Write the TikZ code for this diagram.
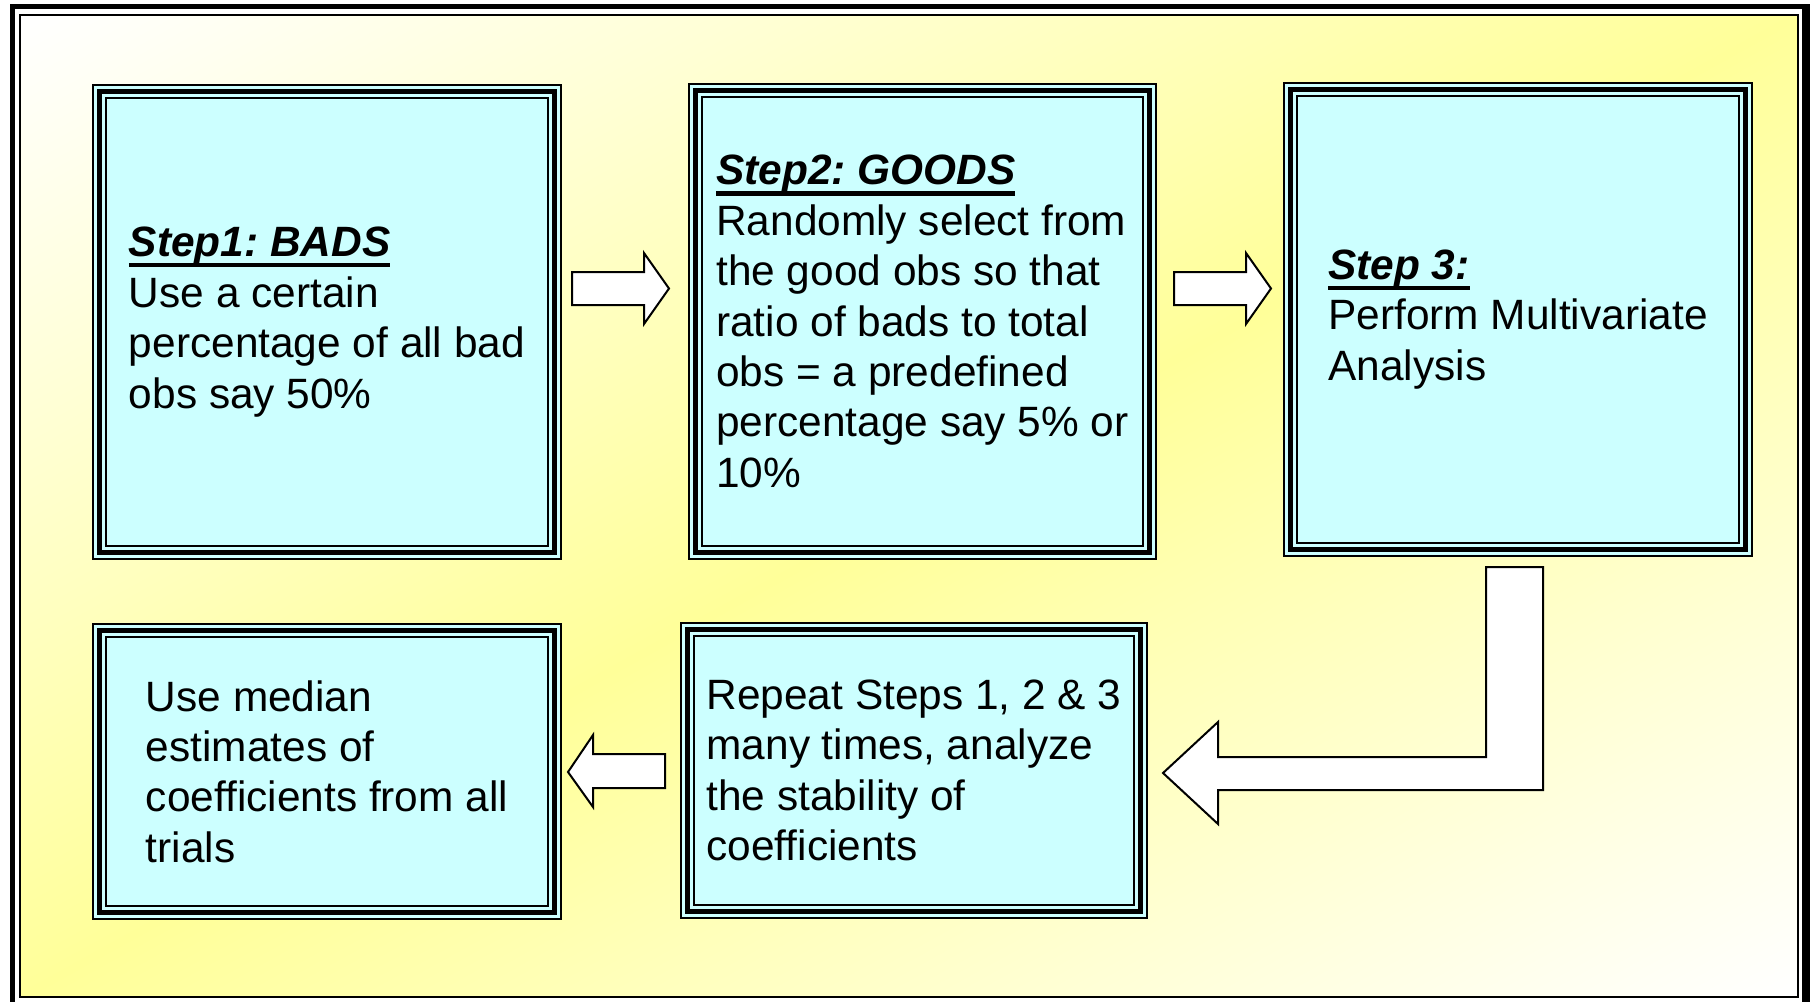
\documentclass[tikz,border=0pt]{standalone}
\usepackage{fontspec}
\setmainfont{Liberation Sans}
\frenchspacing
\definecolor{boxcyan}{HTML}{CCFFFF}
\definecolor{bgyellow}{HTML}{FFFF99}
\pgfdeclarehorizontalshading{bgdiag}{100bp}{color(0bp)=(white); color(14.6bp)=(white); color(50bp)=(bgyellow); color(85.4bp)=(white); color(100bp)=(white)}
\newcommand{\steptitle}[1]{\setbox0\hbox{\bfseries\itshape #1}\rlap{\rule[-5.3pt]{\wd0}{2.2pt}}\box0}
\tikzset{
  stepnode/.style={draw=black, line width=1pt, fill=boxcyan, align=left, inner sep=0pt,
    font=\fontsize{21.2pt}{25.2pt}\selectfont,
    path picture={
      \draw[line width=2.65pt] ([shift={(3.15pt,3.15pt)}]path picture bounding box.south west) rectangle ([shift={(-3.15pt,-3.15pt)}]path picture bounding box.north east);
      \draw[line width=1.15pt] ([shift={(6.5pt,6.5pt)}]path picture bounding box.south west) rectangle ([shift={(-6.5pt,-6.5pt)}]path picture bounding box.north east);
    }},
  blockarrow/.style={draw=black, fill=white, line width=1pt, line join=miter}
}
\begin{document}
\begin{tikzpicture}[x=0.5pt, y=-0.5pt]
\useasboundingbox (0,0) rectangle (1813,1001);
% frame and background
\fill[black] (10,4) rectangle (1810,1010);
\fill[white] (15,9) rectangle (1802,1010);
\begin{scope}[transform canvas={shift={(10pt,-498.5pt)}, xscale=8.89, yscale=4.91}]
\shade[shading=bgdiag, shading angle=-45] (0pt,0pt) rectangle (100pt,100pt);
\end{scope}
\draw[line width=1pt] (20,15) rectangle (1798,997);

% steps
\node[stepnode, minimum width=234pt, minimum height=237pt] (s1) at (327,322)
  {\steptitle{Step1: BADS}\\Use a certain\\percentage of all bad\\obs say 50\%};
\node[stepnode, minimum width=233.5pt, minimum height=237.5pt] (s2) at (922.5,321.5)
  {\steptitle{Step2: GOODS}\\Randomly select from\\the good obs so that\\ratio of bads to total\\obs = a predefined\\percentage say 5\% or\\10\%};
\node[stepnode, minimum width=234pt, minimum height=236.5pt] (s3) at (1518,319.5)
  {\steptitle{Step 3:}\\Perform Multivariate\\Analysis};
\node[stepnode, minimum width=234pt, minimum height=147.5pt] (s4) at (327,771.5)
  {Use median\\estimates of\\coefficients from all\\trials};
\node[stepnode, minimum width=233pt, minimum height=147.5pt] (s5) at (914,770.5)
  {Repeat Steps 1, 2 \& 3\\many times, analyze\\the stability of\\coefficients};

% arrows
\coordinate (a12) at (572,288.5);
\coordinate (a23) at (1174,288.5);
\coordinate (a54) at (665,771);
\coordinate (a35) at (1486,567);
\draw[blockarrow] (a12) ++(0,-16.5) -- ++(72,0) -- ++(0,-19) -- ++(25,35.5) -- ++(-25,35.5) -- ++(0,-19) -- ++(-72,0) -- cycle;
\draw[blockarrow] (a23) ++(0,-16.5) -- ++(72,0) -- ++(0,-19) -- ++(25,35.5) -- ++(-25,35.5) -- ++(0,-19) -- ++(-72,0) -- cycle;
\draw[blockarrow] (a54) ++(0,-17) -- ++(-72,0) -- ++(0,-19) -- ++(-25,37) -- ++(25,35) -- ++(0,-19) -- ++(72,0) -- cycle;
\draw[blockarrow] (a35) -- ++(57,0) -- ++(0,223) -- ++(-325,0) -- ++(0,34) -- ++(-55,-51) -- ++(55,-51) -- ++(0,35) -- ++(268,0) -- cycle;
\end{tikzpicture}
\end{document}
